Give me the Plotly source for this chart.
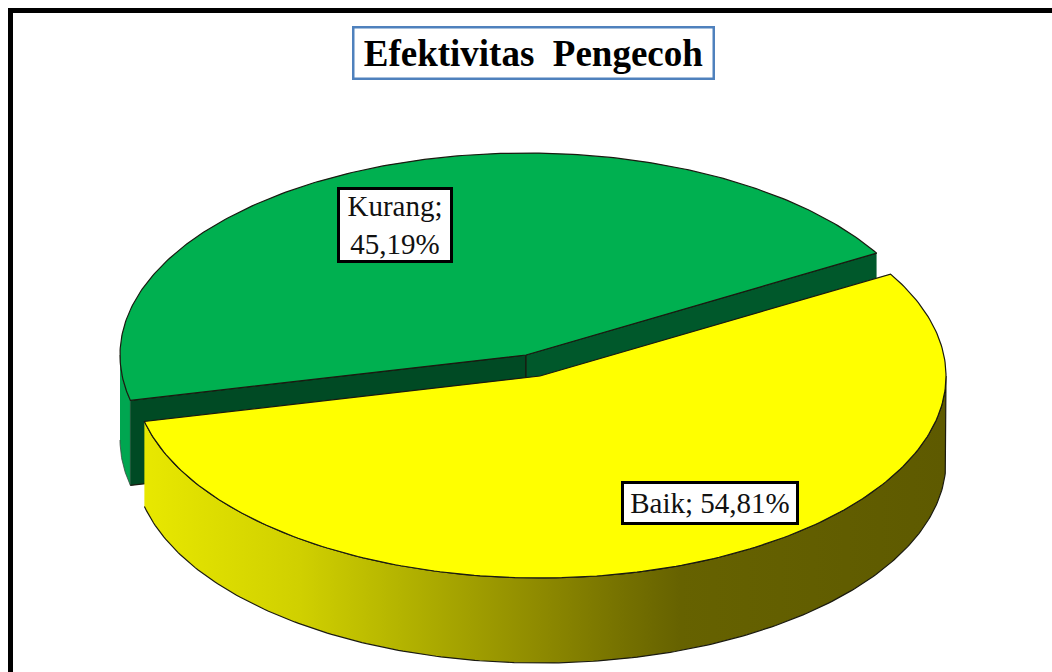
import numpy as np
import plotly.graph_objects as go

# Data
categories = ["Baik", "Kurang"]
shares = [54.81, 45.19]
chart_title = "Efektivitas\u00a0\u00a0Pengecoh"

# Style / geometry of the pseudo-3D pie (canvas pixels)
W, H = 1052, 672
RX, RY, DEPTH = 406, 202, 85
START_DEG = 30.3
CENTRES = {"Baik": (540, 376), "Kurang": (526, 355)}
TOP = {"Baik": "#ffff00", "Kurang": "#00b050"}
OUTLINE = "#1a1a10"
GRAD_X = [145, 300, 400, 540, 620, 680, 946]
GRAD_R = [232, 208, 180, 142, 118, 102, 94]
GRAD_G = [232, 208, 180, 138, 114, 98, 90]

span = {c: v / sum(shares) * 360 for c, v in zip(categories, shares)}
baik_a = (START_DEG - span["Baik"], START_DEG)
kurang_a = (START_DEG, START_DEG + span["Kurang"])


def rim(c, a0, a1, n=240):
    t = np.radians(np.linspace(a0, a1, n))
    cx, cy = CENTRES[c]
    return cx + RX * np.cos(t), cy - RY * np.sin(t)


def poly(x, y, fill, line=None, lw=1.2):
    return go.Scatter(
        x=list(x), y=list(y), mode="lines", fill="toself", fillcolor=fill,
        line=dict(color=line or fill, width=lw), hoverinfo="skip", showlegend=False,
    )


fig = go.Figure()

# Kurang: outer wall on the left, cut faces, top
kx, ky = rim("Kurang", *kurang_a)
gcx, gcy = CENTRES["Kurang"]
lo = kurang_a[1]
ox, oy = rim("Kurang", 180, lo, 30)
fig.add_trace(poly(list(ox) + list(ox[::-1]), list(oy) + list((oy + DEPTH)[::-1]), "#00a650", "#3a4a40", 0.8))
fig.add_trace(poly([kx[-1], gcx, gcx, kx[-1]], [ky[-1], gcy, gcy + DEPTH, ky[-1] + DEPTH], "#004a24", OUTLINE))
fig.add_trace(poly([kx[0], gcx, gcx, kx[0]], [ky[0], gcy, gcy + DEPTH, ky[0] + DEPTH], "#00582b", OUTLINE))
fig.add_trace(poly([gcx] + list(kx) + [gcx], [gcy] + list(ky) + [gcy], TOP["Kurang"], OUTLINE))

# Baik: outer wall with a horizontal gradient, then top
bcx, bcy = CENTRES["Baik"]
wx, wy = rim("Baik", baik_a[0], 0, 240)
x_min, x_max = wx.min(), wx.max()
stops = [
    [float(np.clip((gx - x_min) / (x_max - x_min), 0, 1)), f"rgb({r},{g},0)"]
    for gx, r, g in zip(GRAD_X, GRAD_R, GRAD_G)
]
stops[0][0], stops[-1][0] = 0.0, 1.0
fig.add_trace(go.Scatter(
    x=list(wx) + list(wx[::-1]), y=list(wy) + list((wy + DEPTH)[::-1]),
    mode="lines", fill="toself",
    fillgradient=dict(type="horizontal", colorscale=stops),
    line=dict(color=OUTLINE, width=1.2), hoverinfo="skip", showlegend=False,
))
bx, by = rim("Baik", *baik_a)
fig.add_trace(poly([bcx] + list(bx) + [bcx], [bcy] + list(by) + [bcy], TOP["Baik"], OUTLINE))

# Data labels
def pct(v):
    return f"{v:.2f}".replace(".", ",") + "%"

LABEL = dict(
    font=dict(family="Liberation Serif", size=29, color="#111111"),
    showarrow=False, bgcolor="#ffffff", bordercolor="#000000", borderwidth=3,
    xref="x", yref="y", xanchor="center", yanchor="middle", align="center",
)
fig.add_annotation(x=394.5, y=225, text=f"{categories[1]};<br>{pct(shares[1])}", width=110, height=70, borderpad=0, **LABEL)
fig.add_annotation(x=710, y=502.5, text=f"{categories[0]};\u00a0{pct(shares[0])}", width=172, height=38, borderpad=0, **LABEL)

# Title box
fig.add_annotation(
    x=533.5, y=52.5, text=f"<b>{chart_title}</b>", width=358, height=49, borderpad=0,
    font=dict(family="Liberation Serif", size=37, color="#000000"),
    showarrow=False, bgcolor="#ffffff", bordercolor="#4f81bd", borderwidth=2.5,
    xref="x", yref="y", xanchor="center", yanchor="middle", align="center",
)

# Outer frame (left and top only; the crop cuts the rest)
fig.add_shape(type="path", path=f"M 10.5 {H+5} L 10.5 10.5 L {W+5} 10.5", xref="x", yref="y",
              line=dict(color="#000000", width=5))

fig.update_layout(
    width=W, height=H, autosize=False, margin=dict(l=0, r=0, t=0, b=0),
    paper_bgcolor="#ffffff", plot_bgcolor="#ffffff", showlegend=False,
    xaxis=dict(range=[0, W], visible=False, fixedrange=True),
    yaxis=dict(range=[H, 0], visible=False, fixedrange=True),
)
fig.write_html(
    "out.html", config={"displayModeBar": False}, default_width=W, default_height=H,
    post_script="document.body.style.margin='0';document.body.style.overflow='hidden';",
)
